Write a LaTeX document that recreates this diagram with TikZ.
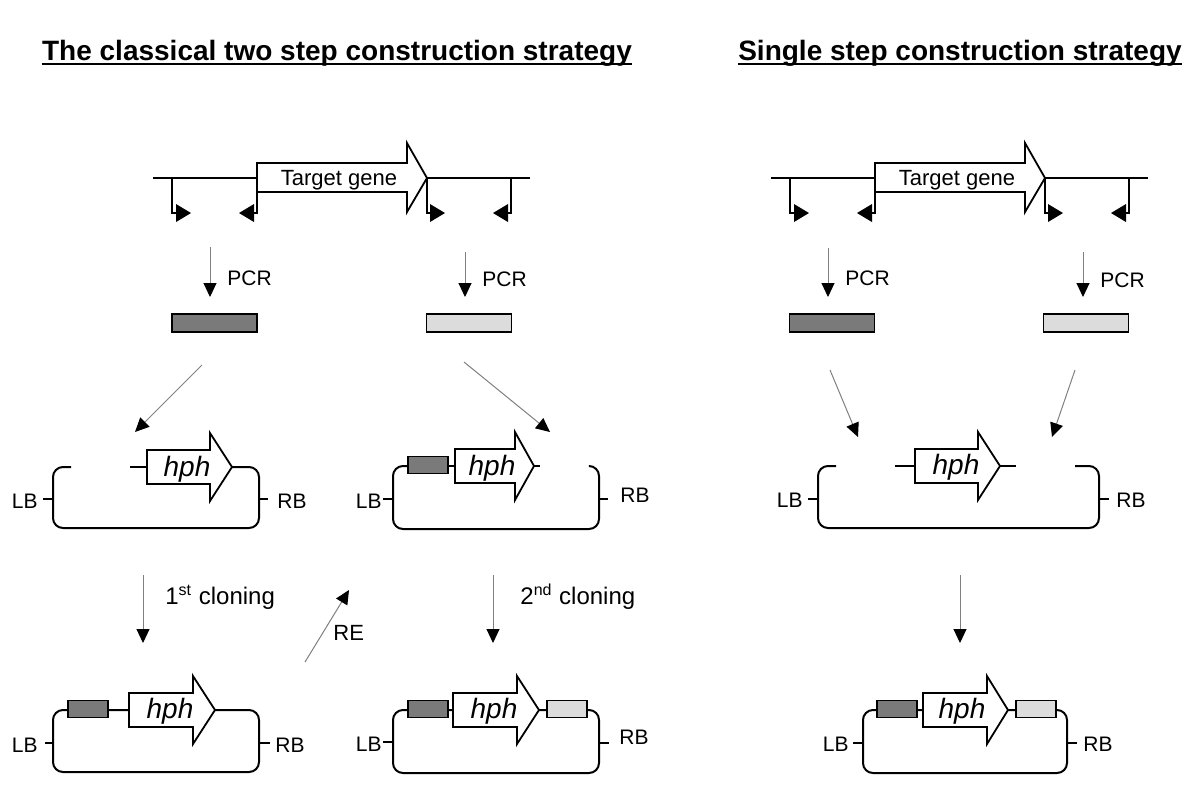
\documentclass[tikz,border=0pt]{standalone}
\usepackage{fontspec}
\setmainfont{Liberation Sans}
\usetikzlibrary{arrows.meta}

\definecolor{fragdark}{RGB}{122,122,122}
\definecolor{fraglight}{RGB}{220,220,220}

\tikzset{
  dna/.style={line width=1.4pt},
  primer/.style={line width=1pt},
  vec/.style={line width=1pt, rounded corners=5pt},
  orf/.style={draw, fill=white, line width=0.9pt, line join=miter},
  frag/.style={draw, line width=0.8pt, inner sep=0pt, minimum width=42.5pt, minimum height=9pt},
  site/.style={draw, line width=0.8pt, inner sep=0pt, minimum width=20pt, minimum height=8.5pt},
  flow/.style={draw=gray, line width=0.5pt, -{Triangle[length=7pt,width=6.5pt,color=black]}},
  lbl/.style={inner sep=0pt, font=\fontsize{10.5}{12}\selectfont},
  genelbl/.style={inner sep=0pt, font=\fontsize{11}{13}\selectfont},
  steplbl/.style={inner sep=0pt, font=\fontsize{12}{14}\selectfont},
  hphlbl/.style={inner sep=0pt, anchor=base, font=\fontsize{14}{16}\selectfont\itshape},
  title/.style={inner sep=0pt, anchor=base, font=\fontsize{14}{16}\selectfont\bfseries}
}

\begin{document}
\begin{tikzpicture}[x=0.5pt, y=-0.5pt]
    \useasboundingbox (0,0) rectangle (1200,800);

    % titles
    \node[title] (titleL) at (337,60) {The classical two step construction strategy};
    \draw[line width=1pt] ([yshift=-2pt]titleL.base west) -- ([yshift=-2pt]titleL.base east);
    \node[title] (titleR) at (960,60) {Single step construction strategy};
    \draw[line width=1pt] ([yshift=-2pt]titleR.base west) -- ([yshift=-2pt]titleR.base east);

    % target locus, left
    \draw[dna] (153,178) -- (530,178);
    \draw[orf] (257,163) -- (407,163) -- (407,143) -- (427,178) -- (407,212) -- (407,192) -- (257,192) -- cycle;
    \node[genelbl, anchor=base] (geneL) at (339,185) {Target gene};
    \draw[primer] (172,178) |- (177,213);
    \fill (176,204) -- (191,213) -- (176,222) -- cycle;
    \draw[primer] (257,178) |- (253,213);
    \fill (254,204) -- (239,213) -- (254,222) -- cycle;
    \draw[primer] (427,178) |- (431,213);
    \fill (430,204) -- (445,213) -- (430,222) -- cycle;
    \draw[primer] (511,178) |- (507,213);
    \fill (508,204) -- (493,213) -- (508,222) -- cycle;

    % target locus, right
    \draw[dna] (771,178) -- (1148,178);
    \draw[orf] (875,163) -- (1025,163) -- (1025,143) -- (1045,178) -- (1025,212) -- (1025,192) -- (875,192) -- cycle;
    \node[genelbl, anchor=base] (geneR) at (957,185) {Target gene};
    \draw[primer] (790,178) |- (795,213);
    \fill (794,204) -- (809,213) -- (794,222) -- cycle;
    \draw[primer] (875,178) |- (871,213);
    \fill (872,204) -- (857,213) -- (872,222) -- cycle;
    \draw[primer] (1045,178) |- (1049,213);
    \fill (1048,204) -- (1063,213) -- (1048,222) -- cycle;
    \draw[primer] (1129,178) |- (1125,213);
    \fill (1126,204) -- (1111,213) -- (1126,222) -- cycle;

    % PCR fragments
    \node[frag, fill=fragdark] (upL) at (214.5,323) {};
    \node[frag, fill=fraglight] (dnL) at (469,323) {};
    \node[frag, fill=fragdark] (upR) at (832,323) {};
    \node[frag, fill=fraglight] (dnR) at (1086,323) {};

    \coordinate (pcrL1) at (210,247);
    \coordinate (pcrL2) at (465,252);
    \coordinate (pcrR1) at (828,248);
    \coordinate (pcrR2) at (1083,252);
    \draw[flow] (pcrL1) -- (pcrL1 |- 0,297);
    \draw[flow] (pcrL2) -- (pcrL2 |- 0,297);
    \draw[flow] (pcrR1) -- (pcrR1 |- 0,297);
    \draw[flow] (pcrR2) -- (pcrR2 |- 0,297);
    \node[lbl, anchor=base west] (pcrlblL1) at (227,285) {PCR};
    \node[lbl, anchor=base west] (pcrlblL2) at (482,286) {PCR};
    \node[lbl, anchor=base west] (pcrlblR1) at (845,285) {PCR};
    \node[lbl, anchor=base west] (pcrlblR2) at (1100,287) {PCR};

    % fragments into the vectors
    \coordinate (inA) at (135,432);
    \coordinate (inB) at (550,432);
    \coordinate (inC) at (858,437);
    \coordinate (inD) at (1052,437);
    \draw[flow] (202,365) -- (inA);
    \draw[flow] (464,362) -- (inB);
    \draw[flow] (830,370) -- (inC);
    \draw[flow] (1075,370) -- (inD);

    % vector A: empty
    \draw[vec] (71,467) -- (53,467) -- (53,528) -- (259,528) -- (259,467) -- (232,467);
    \draw[vec] (130,467) -- (147,467);
    \draw[orf] (147,450) -- (210,450) -- (210,433) -- (232,467) -- (210,501) -- (210,484) -- (147,484) -- cycle;
    \node[hphlbl] (hphA) at (187,476) {hph};
    \draw[vec] (43,499) -- (53,499);
    \draw[vec] (259,499) -- (268,499);
    \node[lbl, anchor=base east] (lbA) at (38,508) {LB};
    \node[lbl, anchor=base west] (rbA) at (277,508) {RB};

    % vector B: upstream fragment inserted
    \draw[vec] (408,466) -- (393,466) -- (393,529) -- (599,529) -- (599,466) -- (590,466);
    \draw[vec] (448,466) -- (455,466);
    \draw[vec] (534,466) -- (540,466);
    \node[site, fill=fragdark] (upB) at (428,465) {};
    \draw[orf] (455,449) -- (515,449) -- (515,432) -- (534,466) -- (515,500) -- (515,483) -- (455,483) -- cycle;
    \node[hphlbl] (hphB) at (492,475) {hph};
    \draw[vec] (383,499) -- (393,499);
    \draw[vec] (599,499) -- (608,499);
    \node[lbl, anchor=base east] (lbB) at (382,508) {LB};
    \node[lbl, anchor=base west] (rbB) at (620,502) {RB};

    % vector C: after 1st cloning
    \draw[vec] (53,710) rectangle (259,772);
    \node[site, fill=fragdark] (upC) at (88,709) {};
    \draw[orf] (129,693) -- (193,693) -- (193,676) -- (215,710) -- (193,744) -- (193,727) -- (129,727) -- cycle;
    \node[hphlbl] (hphC) at (170,718) {hph};
    \draw[vec] (45,743) -- (53,743);
    \draw[vec] (259,743) -- (270,743);
    \node[lbl, anchor=base east] (lbC) at (38,752) {LB};
    \node[lbl, anchor=base west] (rbC) at (275,752) {RB};

    % vector D: after 2nd cloning
    \draw[vec] (393,710) rectangle (599,773);
    \node[site, fill=fragdark] (upD) at (428,709) {};
    \node[site, fill=fraglight] (dnD) at (567,709) {};
    \draw[orf] (453,693) -- (517,693) -- (517,676) -- (539,710) -- (517,744) -- (517,727) -- (453,727) -- cycle;
    \node[hphlbl] (hphD) at (494,718) {hph};
    \draw[vec] (383,742) -- (393,742);
    \draw[vec] (599,743) -- (609,743);
    \node[lbl, anchor=base east] (lbD) at (382,751) {LB};
    \node[lbl, anchor=base west] (rbD) at (619,744) {RB};

    % vector E: single step, empty
    \draw[vec] (836,466) -- (818,466) -- (818,528) -- (1099,528) -- (1099,466) -- (1075,466);
    \draw[vec] (895,466) -- (915,466);
    \draw[vec] (1000,466) -- (1016,466);
    \draw[orf] (915,449) -- (978,449) -- (978,432) -- (1000,466) -- (978,500) -- (978,483) -- (915,483) -- cycle;
    \node[hphlbl] (hphE) at (956,474) {hph};
    \draw[vec] (808,499) -- (818,499);
    \draw[vec] (1099,499) -- (1109,499);
    \node[lbl, anchor=base east] (lbE) at (803,507) {LB};
    \node[lbl, anchor=base west] (rbE) at (1116,507) {RB};

    % vector F: single step, final
    \draw[vec] (863,710) rectangle (1067,773);
    \node[site, fill=fragdark] (upF) at (897,709) {};
    \node[site, fill=fraglight] (dnF) at (1036,709) {};
    \draw[orf] (923,693) -- (987,693) -- (987,676) -- (1008,710) -- (987,744) -- (987,727) -- (923,727) -- cycle;
    \node[hphlbl] (hphF) at (962,718) {hph};
    \draw[vec] (853,743) -- (863,743);
    \draw[vec] (1067,743) -- (1077,743);
    \node[lbl, anchor=base east] (lbF) at (849,751) {LB};
    \node[lbl, anchor=base west] (rbF) at (1083,751) {RB};

    % cloning steps
    \coordinate (clA) at (143,575);
    \coordinate (clB) at (493,575);
    \coordinate (clC) at (960,575);
    \coordinate (reA) at (305,662);
    \coordinate (reB) at (349,590);
    \draw[flow] (clA) -- (clA |- 0,643);
    \draw[flow] (clB) -- (clB |- 0,643);
    \draw[flow] (clC) -- (clC |- 0,643);
    \draw[flow] (reA) -- (reB);
    \node[steplbl, anchor=base west] (firstcl) at (165,604) {1\textsuperscript{st} cloning};
    \node[steplbl, anchor=base west] (secondcl) at (520,604) {2\textsuperscript{nd} cloning};
    \node[genelbl, anchor=base west] (relbl) at (333,640) {RE};

\end{tikzpicture}
\end{document}
